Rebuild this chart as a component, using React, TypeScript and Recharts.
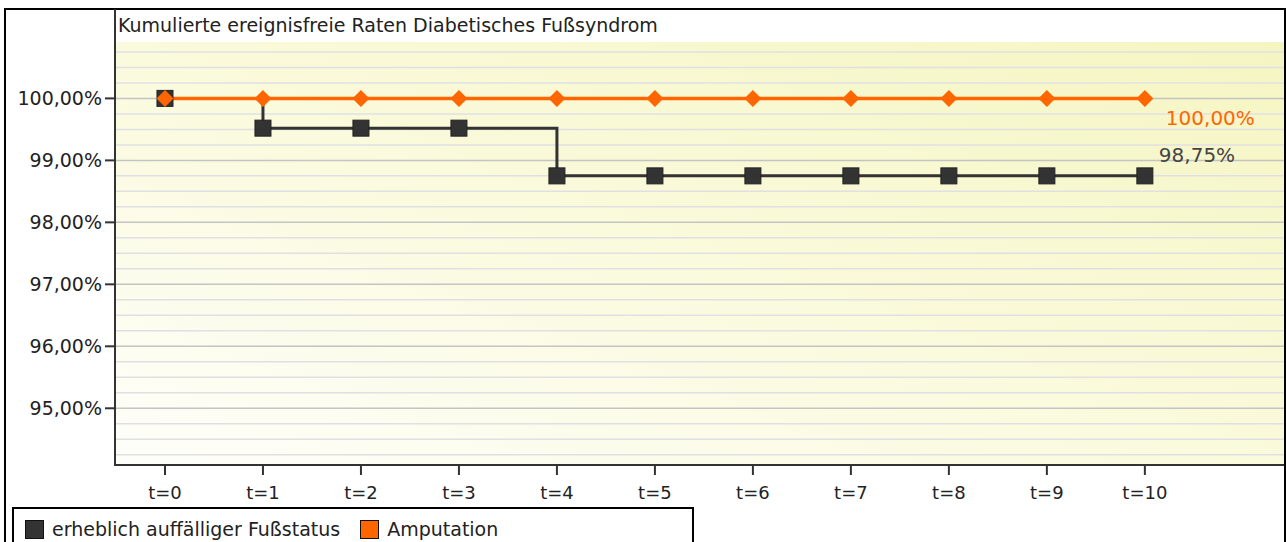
import React from "react";
import { LineChart, Line, XAxis, YAxis, CartesianGrid, ReferenceLine } from "recharts";

// Zeitpunkte und kumulierte ereignisfreie Raten (in %)
const zeitpunkte = [0, 1, 2, 3, 4, 5, 6, 7, 8, 9, 10];
const fussstatus = [100, 99.52, 99.52, 99.52, 98.75, 98.75, 98.75, 98.75, 98.75, 98.75, 98.75];
const amputation = [100, 100, 100, 100, 100, 100, 100, 100, 100, 100, 100];
const yTicks = [95, 96, 97, 98, 99, 100];

const data = zeitpunkte.map((t, i) => ({
  t,
  fussstatus: fussstatus[i],
  amputation: amputation[i],
}));

const minorLines: number[] = [];
for (let k = 1; k <= 27; k++) {
  const v = 94 + k * 0.25;
  if (k % 4 !== 0) minorLines.push(v);
}

const FONT = "'DejaVu Sans', Verdana, sans-serif";
const DARK = "#333333";
const ORANGE = "#ff6600";

const fmt = (v: number) => v.toFixed(2).replace(".", ",") + "%";

const SquareDot = (props: any) => {
  const { cx, cy, index } = props;
  if (cx == null || cy == null) return null;
  return (
    <rect key={`sq-${index}`} x={cx - 8} y={cy - 8} width={16} height={16} fill={DARK} stroke="#222" strokeWidth={1} />
  );
};

const DiamondDot = (props: any) => {
  const { cx, cy, index } = props;
  if (cx == null || cy == null) return null;
  const r = 8.5;
  return (
    <polygon
      key={`di-${index}`}
      points={`${cx},${cy - r} ${cx + r},${cy} ${cx},${cy + r} ${cx - r},${cy}`}
      fill={ORANGE}
    />
  );
};

const endLabel = (color: string, dx: number, dy: number) => (props: any) => {
  const { x, y, value, index } = props;
  if (index !== zeitpunkte.length - 1) return null;
  return (
    <text key={`lbl-${color}`} x={x + dx} y={y + dy} fill={color} fontSize={20} fontFamily={FONT}>
      {fmt(Number(value))}
    </text>
  );
};

const LegendItem = ({ color, label }: { color: string; label: string }) => (
  <div style={{ display: "flex", alignItems: "center", marginRight: 20 }}>
    <div style={{ width: 17, height: 17, background: color, border: "1px solid #111", marginRight: 8 }} />
    <span>{label}</span>
  </div>
);

export default function App() {
  return (
    <div
      style={{
        position: "absolute",
        left: 0,
        top: 0,
        width: 1286,
        height: 542,
        overflow: "hidden",
        background: "#fff",
        fontFamily: FONT,
        color: "#222",
      }}
    >
      <svg width={0} height={0} style={{ position: "absolute" }}>
        <defs>
          <linearGradient id="plotBg" x1="1" y1="0" x2="0" y2="1">
            <stop offset="0%" stopColor="#f5f5c2" />
            <stop offset="50%" stopColor="#fafadc" />
            <stop offset="100%" stopColor="#fefefa" />
          </linearGradient>
        </defs>
      </svg>
      <div
        style={{
          position: "absolute",
          left: 4,
          top: 8,
          width: 1282,
          height: 600,
          border: "2px solid #000",
          boxSizing: "border-box",
        }}
      />
      <div style={{ position: "absolute", left: 118, top: 14, fontSize: 19 }}>
        Kumulierte ereignisfreie Raten Diabetisches Fußsyndrom
      </div>
      <div style={{ position: "absolute", left: 0, top: 0 }}>
        <LineChart width={1286} height={542} data={data} margin={{ top: 42, right: 2, bottom: 47, left: 0 }}>
          <CartesianGrid horizontal={false} vertical={false} fill="url(#plotBg)" />
          {minorLines.map((v) => (
            <ReferenceLine key={`mi-${v}`} y={v} stroke="#e0e0e4" strokeWidth={1.5} />
          ))}
          {yTicks.map((v) => (
            <ReferenceLine key={`ma-${v}`} y={v} stroke="#c4c4c4" strokeWidth={1.5} />
          ))}
          <XAxis
            dataKey="t"
            type="number"
            domain={[-0.51, 11.42]}
            ticks={zeitpunkte}
            tickFormatter={(v) => `t=${v}`}
            height={30}
            interval={0}
            tickSize={10}
            tickMargin={11}
            axisLine={{ stroke: DARK, strokeWidth: 2 }}
            tickLine={{ stroke: DARK, strokeWidth: 2 }}
            tick={{ fill: "#222", fontSize: 18, fontFamily: FONT }}
          />
          <YAxis
            type="number"
            domain={[94.085, 100.91]}
            ticks={yTicks}
            tickFormatter={fmt}
            width={115}
            allowDataOverflow
            interval={0}
            tickSize={10}
            tickMargin={3}
            axisLine={false}
            tickLine={{ stroke: DARK, strokeWidth: 2 }}
            tick={{ fill: "#222", fontSize: 19, fontFamily: FONT }}
          />
          <Line
            dataKey="fussstatus"
            type="stepAfter"
            stroke={DARK}
            strokeWidth={3}
            dot={SquareDot}
            activeDot={false}
            isAnimationActive={false}
            label={endLabel("#444", 14, -14)}
          />
          <Line
            dataKey="amputation"
            type="stepAfter"
            stroke={ORANGE}
            strokeWidth={3.5}
            dot={DiamondDot}
            activeDot={false}
            isAnimationActive={false}
            label={endLabel(ORANGE, 21, 27)}
          />
        </LineChart>
      </div>
      <div style={{ position: "absolute", left: 114, top: 9, width: 2, height: 457, background: DARK }} />
      <div
        style={{
          position: "absolute",
          left: 12,
          top: 507,
          width: 682,
          height: 60,
          border: "2px solid #000",
          boxSizing: "border-box",
          background: "#fff",
          display: "flex",
          alignItems: "flex-start",
          paddingTop: 9,
          paddingLeft: 11,
          fontSize: 19,
        }}
      >
        <LegendItem color={DARK} label="erheblich auffälliger Fußstatus" />
        <LegendItem color={ORANGE} label="Amputation" />
      </div>
    </div>
  );
}
